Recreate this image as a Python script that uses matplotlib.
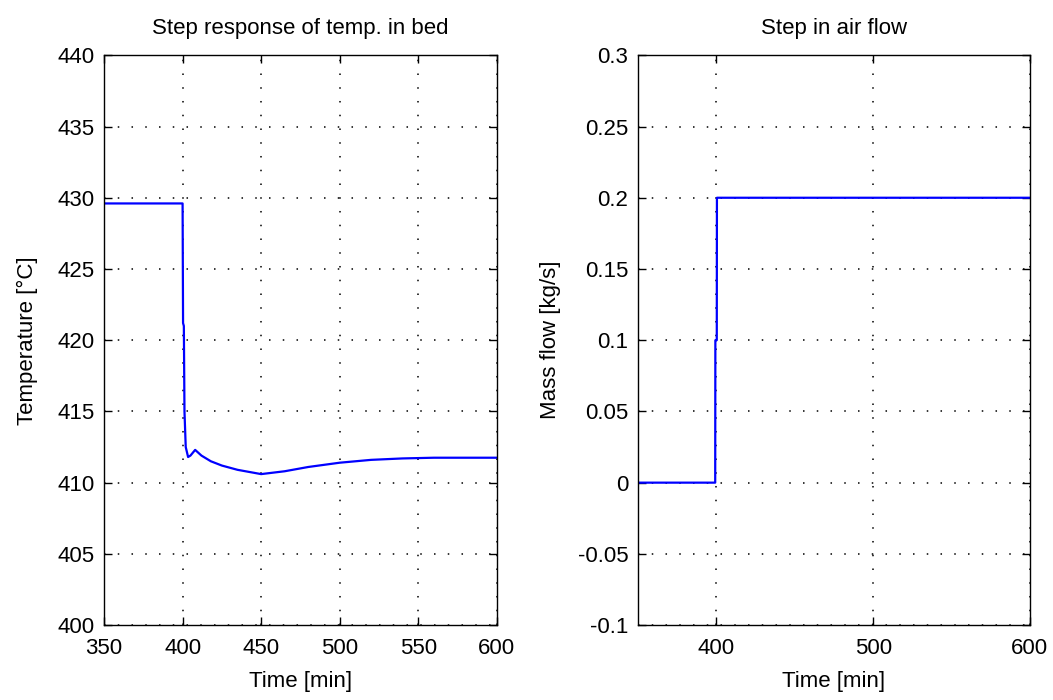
import matplotlib
matplotlib.use("Agg")
import matplotlib.pyplot as plt

# temperature in bed
t_temp = [350, 400, 400.3, 400.8, 401.2, 402.0, 403.5, 405, 408, 412, 418, 425,
          435, 450, 465, 480, 500, 520, 540, 560, 600]
temp = [429.6, 429.6, 421.2, 421.0, 415.0, 412.5, 411.8, 411.9, 412.3, 411.9,
        411.5, 411.2, 410.9, 410.6, 410.8, 411.1, 411.4, 411.6, 411.7, 411.75, 411.75]

# air mass flow step
t_flow = [350, 399.2, 399.3, 400.2, 400.3, 600]
flow = [0, 0, 0.1, 0.1, 0.2, 0.2]

temp_ticks = [400, 405, 410, 415, 420, 425, 430, 435, 440]
flow_ticks = [-0.1, -0.05, 0, 0.05, 0.1, 0.15, 0.2, 0.25, 0.3]
flow_labels = ["-0.1", "-0.05", "0", "0.05", "0.1", "0.15", "0.2", "0.25", "0.3"]

plt.rcParams['font.family'] = ['Liberation Sans', 'DejaVu Sans']
plt.rcParams['font.size'] = 16

fig = plt.figure(figsize=(10.53, 7.0), dpi=100)
ax1 = fig.add_axes([0.0988, 0.107, 0.373, 0.814])
ax2 = fig.add_axes([0.606, 0.107, 0.372, 0.814])

def style(ax):
    ax.grid(True, linestyle=(0, (1, 8)), color='black', linewidth=1.1)
    ax.tick_params(direction='in', top=True, right=True, length=6, width=1)
    ax.tick_params(axis='x', pad=9)
    ax.tick_params(axis='y', pad=7)
    for s in ax.spines.values():
        s.set_linewidth(1)

ax1.plot(t_temp, temp, color='#0000ff', linewidth=1.6)
ax1.set_xlim(350, 600)
ax1.set_ylim(400, 440)
ax1.set_xticks([350, 400, 450, 500, 550, 600])
ax1.set_yticks(temp_ticks)
ax1.set_title('Step response of temp. in bed', fontsize=16, pad=15)
ax1.set_xlabel('Time [min]', labelpad=9)
ax1.set_ylabel('Temperature [°C]', labelpad=14)
style(ax1)

ax2.plot(t_flow, flow, color='#0000ff', linewidth=1.6)
ax2.set_xlim(350, 600)
ax2.set_ylim(-0.1, 0.3)
ax2.set_xticks([400, 500, 600])
ax2.set_yticks(flow_ticks)
ax2.set_yticklabels(flow_labels)
ax2.set_title('Step in air flow', fontsize=16, pad=15)
ax2.set_xlabel('Time [min]', labelpad=9)
ax2.set_ylabel('Mass flow [kg/s]', labelpad=12)
style(ax2)

fig.savefig('out.png', dpi=100)
